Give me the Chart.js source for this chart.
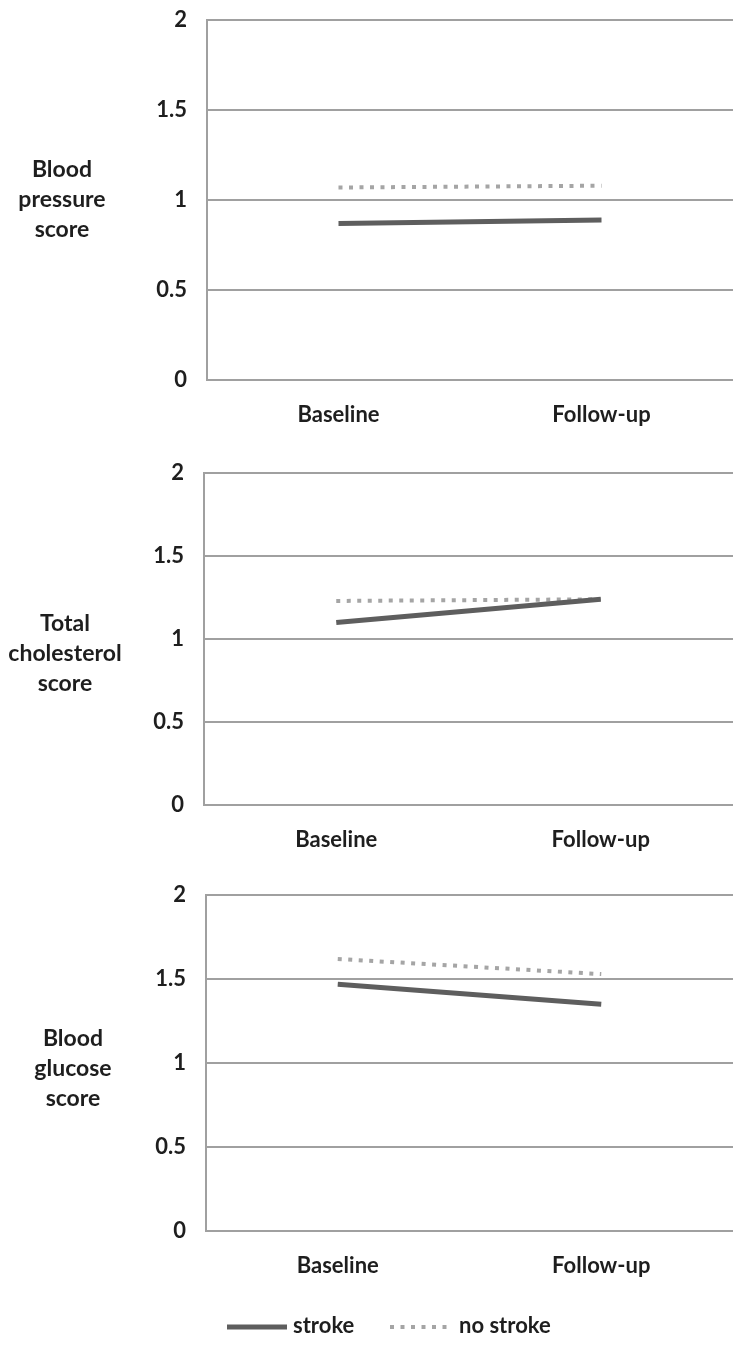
<!DOCTYPE html>
<html>
<head>
<meta charset="utf-8">
<script src="https://cdn.jsdelivr.net/npm/chart.js@4/dist/chart.umd.min.js"></script>
<style>
  html, body { margin: 0; padding: 0; background: #fff; overflow: hidden; }
  #wrap { position: relative; width: 733px; height: 1345px; background: #fff; overflow: hidden; }
  canvas { position: absolute; left: 0; }
  .ytitle {
    position: absolute; width: 140px; text-align: center;
    font-family: Lato, "Liberation Sans", sans-serif; font-weight: 700;
    font-size: 23px; line-height: 30px; color: #1e1e1e;
  }
</style>
</head>
<body>
<div id="wrap">
  <canvas id="c1" width="733" height="453" style="top:-13px"></canvas>
  <canvas id="c2" width="733" height="425" style="top:440px"></canvas>
  <canvas id="c3" width="733" height="483" style="top:862px"></canvas>
  <div class="ytitle" style="left:-8px;top:153px">Blood<br>pressure<br>score</div>
  <div class="ytitle" style="left:-5px;top:607px">Total<br>cholesterol<br>score</div>
  <div class="ytitle" style="left:3px;top:1022px">Blood<br>glucose<br>score</div>
</div>
<script>
// Time points and y-axis ticks shared by all three panels
const categories = ['Baseline', 'Follow-up'];
const yTicks = [0, 0.5, 1, 1.5, 2];
const yTickLabels = ['0', '0.5', '1', '1.5', '2'];
const seriesNames = ['stroke', 'no stroke'];

// Mean scores per group
const bpStroke = [0.87, 0.89];
const bpNoStroke = [1.07, 1.08];
const cholStroke = [1.10, 1.24];
const cholNoStroke = [1.23, 1.24];
const glucStroke = [1.47, 1.35];
const glucNoStroke = [1.62, 1.53];

const FONT = 'Lato, "Liberation Sans", sans-serif';
const FSIZE = 22;
const TEXT = '#1e1e1e';
const GRID = '#a0a0a0';
const STROKE_STYLE = { borderColor: '#5e5e5e', borderWidth: 5, borderDash: [] };
const NOSTROKE_STYLE = { borderColor: '#a5a5a5', borderWidth: 4, borderDash: [4, 6.5] };

function makeDatasets(strokeVals, noStrokeVals) {
  return [
    Object.assign({ label: seriesNames[0], data: strokeVals }, STROKE_STYLE),
    Object.assign({ label: seriesNames[1], data: noStrokeVals }, NOSTROKE_STYLE)
  ];
}

// Legend drawn below the last panel, using each dataset's own line style
const lineLegend = {
  id: 'lineLegend',
  afterDraw(chart, args, opts) {
    if (!opts.show) return;
    const ctx = chart.ctx;
    ctx.save();
    ctx.font = '700 ' + FSIZE + 'px ' + FONT;
    ctx.fillStyle = TEXT;
    ctx.textBaseline = 'middle';
    const y = opts.y;
    chart.data.datasets.forEach((ds, i) => {
      const item = opts.items[i];
      ctx.beginPath();
      ctx.strokeStyle = ds.borderColor;
      ctx.lineWidth = ds.borderWidth;
      ctx.setLineDash(ds.borderDash || []);
      ctx.moveTo(item.x0, y);
      ctx.lineTo(item.x1, y);
      ctx.stroke();
      ctx.setLineDash([]);
      ctx.fillText(ds.label, item.tx, y - 1);
    });
    ctx.restore();
  }
};

function makeChart(id, strokeVals, noStrokeVals, geom, legend) {
  return new Chart(document.getElementById(id), {
    type: 'line',
    data: { labels: categories, datasets: makeDatasets(strokeVals, noStrokeVals) },
    options: {
      responsive: false,
      animation: false,
      devicePixelRatio: 1,
      layout: { padding: { top: geom.top, left: 0, right: 0, bottom: 0 } },
      elements: { point: { radius: 0, hoverRadius: 0 }, line: { tension: 0, borderCapStyle: 'butt' } },
      plugins: {
        legend: { display: false },
        tooltip: { enabled: false },
        lineLegend: legend || { show: false }
      },
      scales: {
        x: {
          type: 'category',
          offset: true,
          grid: { display: false, drawTicks: false },
          border: { display: false },
          ticks: { font: { family: FONT, size: FSIZE, weight: '700' }, color: TEXT, padding: geom.xPad },
          afterFit(s) { s.height = geom.xH; }
        },
        y: {
          min: 0, max: 2,
          afterBuildTicks(s) { s.ticks = yTicks.map(v => ({ value: v })); },
          grid: { color: GRID, lineWidth: 2, drawTicks: false },
          border: { display: true, color: GRID, width: 2 },
          ticks: {
            font: { family: FONT, size: FSIZE, weight: '700' }, color: TEXT, padding: 20,
            callback: v => yTickLabels[yTicks.indexOf(v)]
          },
          afterFit(s) { s.width = geom.yW; }
        }
      }
    },
    plugins: [lineLegend]
  });
}

makeChart('c1', bpStroke, bpNoStroke, { top: 31, xH: 60, yW: 207, xPad: 22 });
makeChart('c2', cholStroke, cholNoStroke, { top: 32, xH: 60, yW: 204, xPad: 22 });
makeChart('c3', glucStroke, glucNoStroke, { top: 31, xH: 114, yW: 206, xPad: 22 }, {
  show: true, y: 465,
  items: [{ x0: 227, x1: 287, tx: 293 }, { x0: 390, x1: 452, tx: 459 }]
});
</script>
</body>
</html>
